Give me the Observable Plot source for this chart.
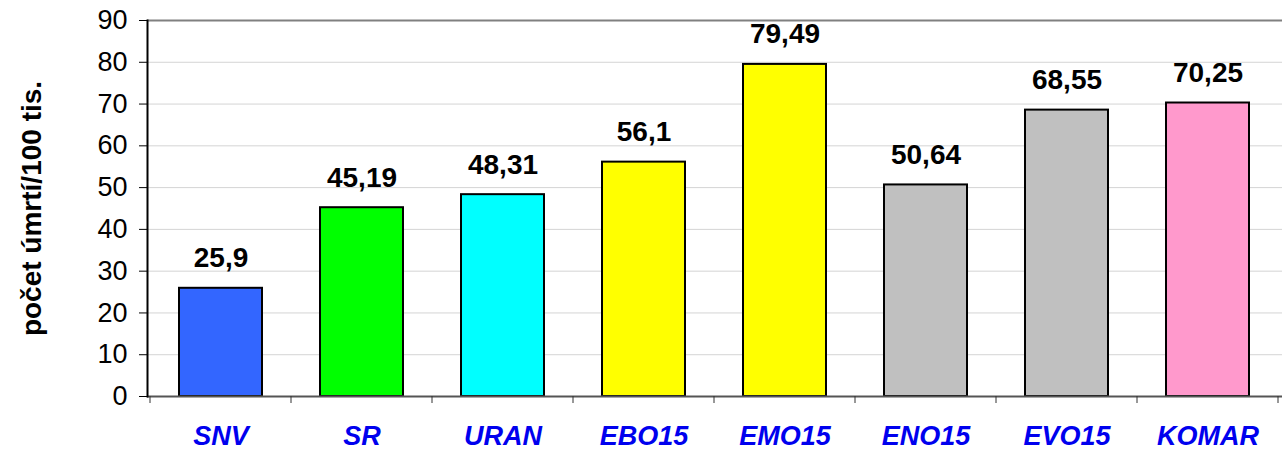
<!DOCTYPE html>
<html>
<head>
<meta charset="utf-8">
<script src="https://cdn.jsdelivr.net/npm/d3@7"></script>
<script src="https://cdn.jsdelivr.net/npm/@observablehq/plot@0.6"></script>
<style>
  html, body { margin: 0; padding: 0; background: #ffffff; }
  #chart { width: 1282px; height: 461px; }
  svg { font-family: "Liberation Sans", Arial, sans-serif; }
</style>
</head>
<body>
<div id="chart"></div>
<script>
const categories = ["SNV", "SR", "URAN", "EBO15", "EMO15", "ENO15", "EVO15", "KOMAR"];
const values = [25.9, 45.19, 48.31, 56.1, 79.49, 50.64, 68.55, 70.25];
const barColors = ["#3366FF", "#00FF00", "#00FFFF", "#FFFF00", "#FFFF00", "#C0C0C0", "#C0C0C0", "#FF99CC"];
const yTicks = [0, 10, 20, 30, 40, 50, 60, 70, 80, 90];
const gridTicks = [10, 20, 30, 40, 50, 60, 70, 80];
const yLabel = "počet úmrtí/100 tis.";

const data = categories.map((c, i) => ({cat: c, value: values[i], color: barColors[i], label: String(values[i]).replace(".", ",")}));

const W = 1282, H = 461;
const mL = 147, mR = 0, mT = 20, mB = 65;

// band-edge tick marks for the category axis
function bandEdgeTicks(index, scales, vals, dims) {
  const x = scales.x;
  const bw = typeof x.bandwidth === "function" ? x.bandwidth() : (dims.width - dims.marginLeft - dims.marginRight) / categories.length;
  const step = typeof x.step === "function" ? x.step() : bw;
  const yBase = dims.height - dims.marginBottom;
  const g = d3.create("svg:g");
  const edges = categories.map(c => x(c) + bw / 2 - step / 2);
  edges.push(x(categories[categories.length - 1]) + bw / 2 + step / 2);
  for (const e of edges) {
    g.append("line")
      .attr("x1", e).attr("x2", e)
      .attr("y1", yBase).attr("y2", yBase + 7)
      .attr("stroke", "#333").attr("stroke-width", 1);
  }
  return g.node();
}

const chart = Plot.plot({
  width: W,
  height: H,
  marginLeft: mL,
  marginRight: mR,
  marginTop: mT,
  marginBottom: mB,
  style: {fontFamily: '"Liberation Sans", Arial, sans-serif', background: "#ffffff"},
  x: {domain: categories, paddingInner: 0.41, paddingOuter: 0.205, align: 0.5},
  y: {domain: [0, 90]},
  marks: [
    Plot.ruleY(gridTicks, {stroke: "#D4D4D4", strokeWidth: 1}),
    Plot.ruleY([90], {stroke: "#808080", strokeWidth: 2}),
    Plot.barY(data, {x: "cat", y: "value", fill: "color", stroke: "#000000", strokeWidth: 2}),
    Plot.text(data, {x: "cat", y: "value", text: "label", dy: -30, fontSize: 28, fontWeight: "bold", fill: "#000000"}),
    Plot.ruleY([0], {stroke: "#555555", strokeWidth: 2}),
    Plot.axisY({ticks: yTicks, tickSize: 8, tickPadding: 12, fontSize: 27, label: null, stroke: "#000000", color: "#000000"}),
    Plot.frame({anchor: "left", stroke: "#000000", strokeWidth: 2}),
    Plot.axisX({tickSize: 0, tickPadding: 29, fontSize: 27, fontWeight: "bold", fontStyle: "italic", fill: "#0000EE", label: null}),
    bandEdgeTicks,
    Plot.text([yLabel], {frameAnchor: "left", dx: -115, textAnchor: "middle", rotate: -90, text: d => d, fontSize: 28, fontWeight: "bold", fill: "#000000"})
  ]
});
document.getElementById("chart").appendChild(chart);
</script>
</body>
</html>
